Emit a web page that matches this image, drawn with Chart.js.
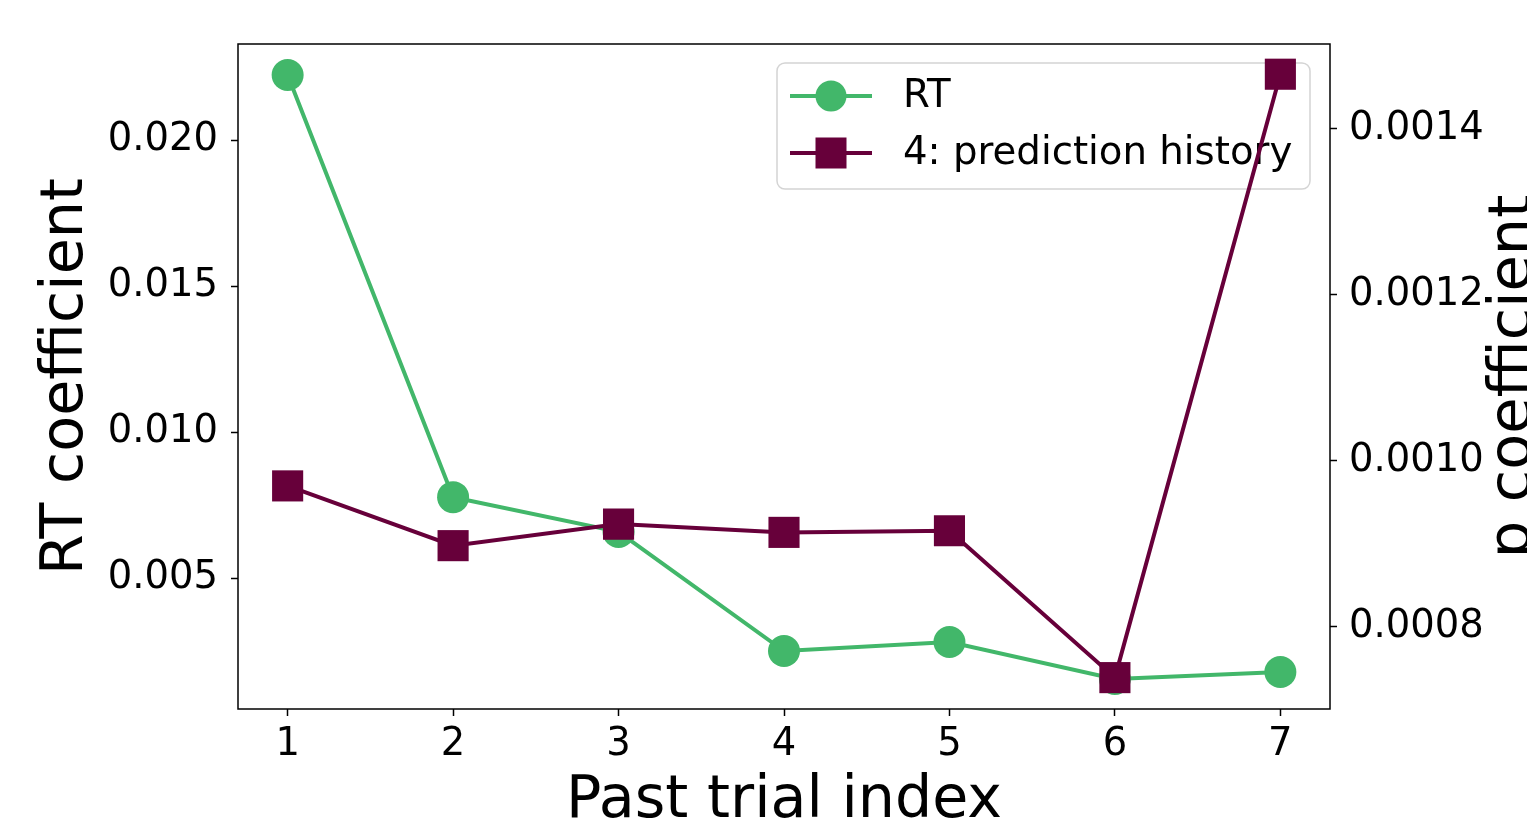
<!DOCTYPE html>
<html>
<head>
<meta charset="utf-8">
<script src="https://cdn.jsdelivr.net/npm/chart.js@4/dist/chart.umd.min.js"></script>
<style>
  html, body { margin: 0; padding: 0; background: #fff; }
  #wrap { width: 1527px; height: 818px; position: relative; }
</style>
</head>
<body>
<div id="wrap"><canvas id="coefChart"></canvas></div>
<script>
// data
var trialIndex = [1, 2, 3, 4, 5, 6, 7];
var rtCoef = [0.02223, 0.00777, 0.00658, 0.00250, 0.00281, 0.00154, 0.00178];
var predCoef = [0.000970, 0.000898, 0.000924, 0.000914, 0.000916, 0.000739, 0.001466];
var leftTicks = [0.005, 0.010, 0.015, 0.020];
var rightTicks = [0.0008, 0.0010, 0.0012, 0.0014];
var seriesNames = ["RT", "4: prediction history"];

var green = "#42b76a";
var purple = "#67003a";
var fontFamily = "'DejaVu Sans', sans-serif";

function toPoints(xs, ys) {
    return xs.map(function(x, i) { return {x: x, y: ys[i]}; });
}

// frame around the plot, the right title and the matplotlib-like legend
var extras = {
    id: 'extras',
    beforeDatasetsDraw: function(chart) {
        var ctx = chart.ctx;
        var x0 = 777, y0 = 63, w = 533, h = 126, r = 8;
        ctx.save();
        ctx.beginPath();
        ctx.moveTo(x0 + r, y0);
        ctx.arcTo(x0 + w, y0, x0 + w, y0 + h, r);
        ctx.arcTo(x0 + w, y0 + h, x0, y0 + h, r);
        ctx.arcTo(x0, y0 + h, x0, y0, r);
        ctx.arcTo(x0, y0, x0 + w, y0, r);
        ctx.closePath();
        ctx.fillStyle = "rgba(255,255,255,0.8)";
        ctx.fill();
        ctx.strokeStyle = "#d4d4d4";
        ctx.lineWidth = 1.5;
        ctx.stroke();

        var rows = [96, 153];
        var colors = [green, purple];
        ctx.font = "38.7px " + fontFamily;
        ctx.textBaseline = "middle";
        ctx.textAlign = "left";
        for (var i = 0; i < 2; i++) {
            ctx.strokeStyle = colors[i];
            ctx.lineWidth = 4;
            ctx.beginPath();
            ctx.moveTo(790, rows[i]);
            ctx.lineTo(872, rows[i]);
            ctx.stroke();
            ctx.fillStyle = colors[i];
            if (i === 0) {
                ctx.beginPath();
                ctx.arc(831, rows[i], 15.5, 0, Math.PI * 2);
                ctx.fill();
            } else {
                ctx.fillRect(831 - 15.5, rows[i] - 15.5, 31, 31);
            }
            ctx.fillStyle = "#000";
            ctx.fillText(seriesNames[i], 903, rows[i] + 1);
        }
        ctx.restore();
    },
    afterDraw: function(chart) {
        var ctx = chart.ctx;
        var a = chart.chartArea;
        ctx.save();
        ctx.strokeStyle = "#000";
        ctx.lineWidth = 1.5;
        ctx.strokeRect(a.left, a.top, a.right - a.left, a.bottom - a.top);
        ctx.translate(1515, (a.top + a.bottom) / 2);
        ctx.rotate(-Math.PI / 2);
        ctx.font = "59px " + fontFamily;
        ctx.fillStyle = "#000";
        ctx.textAlign = "center";
        ctx.textBaseline = "middle";
        ctx.fillText("p coefficient", 0, 0);
        ctx.restore();
    }
};

var ctx = document.getElementById("coefChart").getContext("2d");
var coefChart = new Chart(ctx, {
    type: 'line',
    data: {
        datasets: [{
            label: seriesNames[0],
            data: toPoints(trialIndex, rtCoef),
            yAxisID: 'y',
            borderColor: green,
            backgroundColor: green,
            borderWidth: 4,
            pointStyle: 'circle',
            pointRadius: 16,
            pointHoverRadius: 16,
            pointBorderWidth: 0,
            tension: 0,
            order: 2
        }, {
            label: seriesNames[1],
            data: toPoints(trialIndex, predCoef),
            yAxisID: 'y2',
            borderColor: purple,
            backgroundColor: purple,
            borderWidth: 4,
            pointStyle: 'rect',
            pointRadius: 22,
            pointHoverRadius: 22,
            pointBorderWidth: 0,
            tension: 0,
            order: 1
        }]
    },
    options: {
        responsive: true,
        maintainAspectRatio: false,
        animation: false,
        layout: { padding: { top: 44, left: 0, right: 0, bottom: 0 } },
        plugins: {
            legend: { display: false },
            tooltip: { enabled: false }
        },
        scales: {
            x: {
                type: 'linear',
                min: 0.7,
                max: 7.3,
                afterBuildTicks: function(scale) {
                    scale.ticks = trialIndex.map(function(v) { return {value: v}; });
                },
                afterFit: function(scale) { scale.height = 109; },
                grid: { drawOnChartArea: false, drawTicks: true, tickLength: 7, tickWidth: 1.5, tickColor: '#000' },
                border: { display: false },
                ticks: {
                    color: '#000',
                    padding: 6,
                    maxRotation: 0,
                    font: { family: fontFamily, size: 38.5 },
                    callback: function(v) { return String(v); }
                },
                title: {
                    display: true,
                    text: 'Past trial index',
                    color: '#000',
                    font: { family: fontFamily, size: 58.7, lineHeight: 1 },
                    padding: { top: 0, bottom: -13 }
                }
            },
            y: {
                position: 'left',
                min: 0.000514,
                max: 0.02329,
                afterBuildTicks: function(scale) {
                    scale.ticks = leftTicks.map(function(v) { return {value: v}; });
                },
                afterFit: function(scale) { scale.width = 238; },
                grid: { drawOnChartArea: false, drawTicks: true, tickLength: 7, tickWidth: 1.5, tickColor: '#000' },
                border: { display: false },
                ticks: {
                    color: '#000',
                    padding: 13,
                    font: { family: fontFamily, size: 38.5 },
                    callback: function(v) { return v.toFixed(3); }
                },
                title: {
                    display: true,
                    text: 'RT coefficient',
                    color: '#000',
                    font: { family: fontFamily, size: 58.7 },
                    padding: { top: 32, bottom: 0 }
                }
            },
            y2: {
                position: 'right',
                min: 0.0007012,
                max: 0.0015024,
                afterBuildTicks: function(scale) {
                    scale.ticks = rightTicks.map(function(v) { return {value: v}; });
                },
                afterFit: function(scale) { scale.width = 197; },
                grid: { drawOnChartArea: false, drawTicks: true, tickLength: 7, tickWidth: 1.5, tickColor: '#000' },
                border: { display: false },
                ticks: {
                    color: '#000',
                    padding: 12,
                    font: { family: fontFamily, size: 38.5 },
                    callback: function(v) { return v.toFixed(4); }
                }
            }
        }
    },
    plugins: [extras]
});
</script>
</body>
</html>
